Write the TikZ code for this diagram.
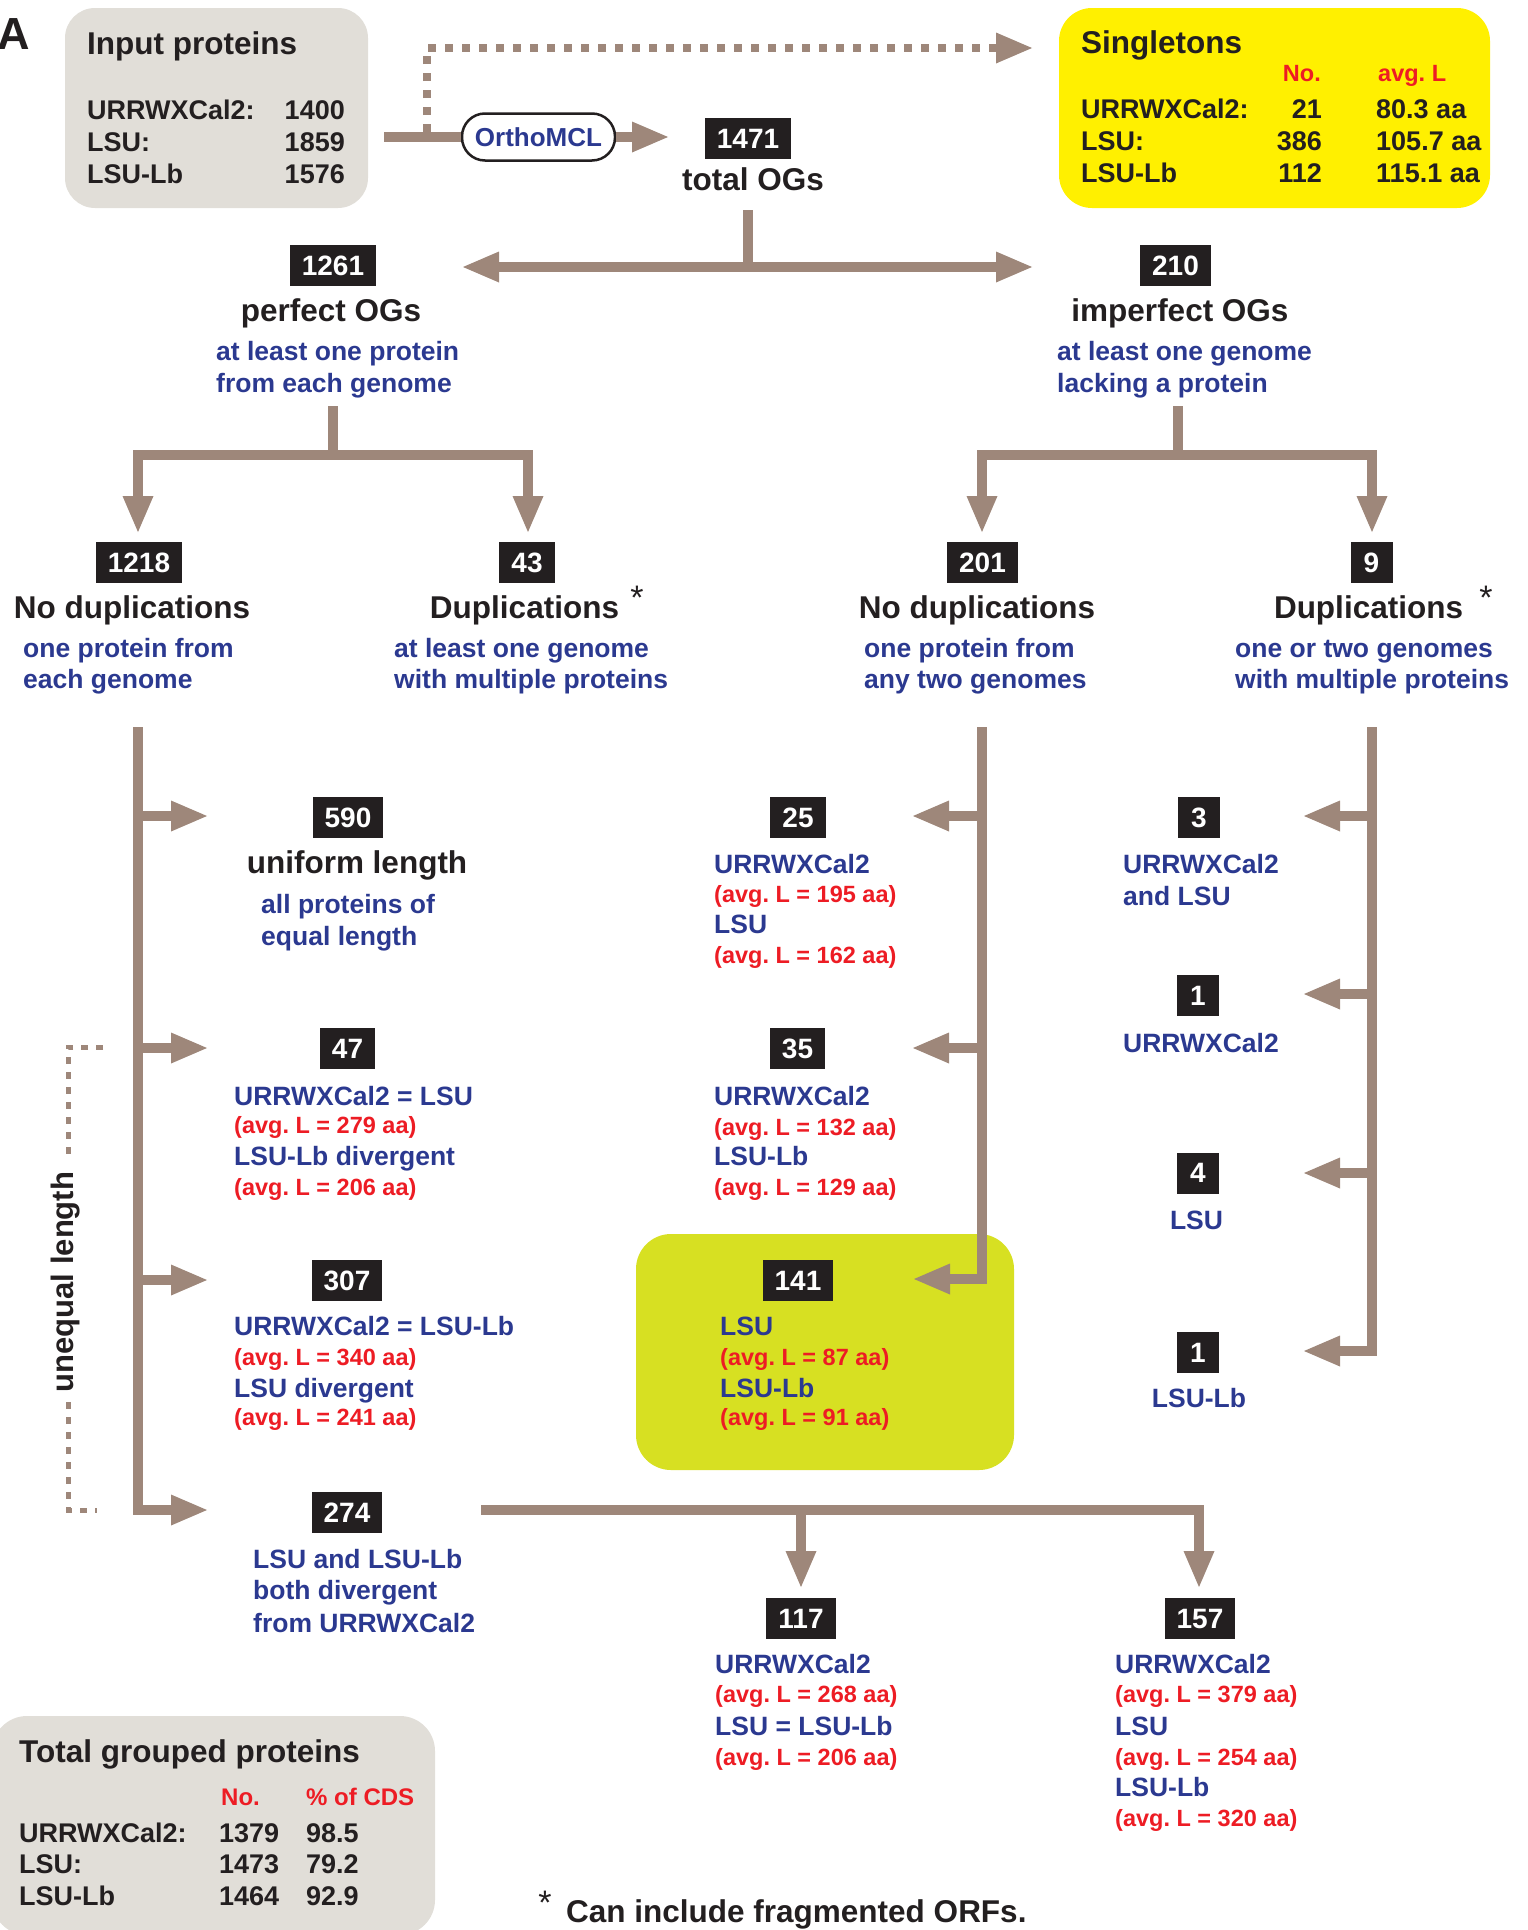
\documentclass[tikz,border=0pt]{standalone}
\usepackage{fontspec}
\setmainfont{Liberation Sans}
\usetikzlibrary{arrows.meta}
\definecolor{cBrn}{RGB}{158,135,122}
\definecolor{cGrey}{RGB}{225,222,216}
\definecolor{cYel}{RGB}{255,240,0}
\definecolor{cGrn}{RGB}{215,224,34}
\definecolor{cBlue}{RGB}{43,57,144}
\definecolor{cRed}{RGB}{237,28,36}
\definecolor{cBlk}{RGB}{35,31,32}
\newcommand\fsz[1]{\fontsize{#1pt}{#1pt}\selectfont\bfseries}
\newcommand\blueline[4]{\node[blt,anchor=base west] (#1) at (#2,#3) {#4};}
\newcommand\redline[4]{\node[rdt,anchor=base west] (#1) at (#2,#3) {#4};}
\tikzset{Tri/.tip={Triangle[length=36pt,width=31pt,line width=0pt]}}
\begin{document}
\frenchspacing
\begin{tikzpicture}[x=1pt,y=-1pt,
  every node/.style={inner sep=0pt, text=cBlk},
  ttl/.style={font=\fsz{31.5}},
  rowt/.style={font=\fsz{27}},
  blt/.style={font=\fsz{26.5}, text=cBlue},
  rdt/.style={font=\fsz{23.5}, text=cRed},
  rdh/.style={font=\fsz{24}, text=cRed},
  astk/.style={font=\fontsize{34pt}{34pt}\selectfont\mdseries},
  numbox/.style={fill=cBlk, text=white, font=\fsz{28}, inner xsep=12pt, inner ysep=0pt, minimum height=41pt, minimum width=42pt},
  conn/.style={draw=cBrn, line width=10pt, line join=miter},
  dotline/.style={draw=cBrn, line width=8pt, dash pattern=on 8pt off 9pt},
  dotlinetwo/.style={draw=cBrn, line width=5pt, dash pattern=on 7pt off 8pt},
]
\useasboundingbox (0,0) rectangle (1528,1930);

% background boxes
\node[fill=cGrey, rounded corners=30pt, minimum width=303pt, minimum height=200pt] (inbox) at (216.5,108) {};
\node[fill=cYel, rounded corners=33pt, minimum width=431pt, minimum height=200pt] (singbox) at (1274.5,108) {};
\node[fill=cGrn, rounded corners=35pt, minimum width=378pt, minimum height=236pt] (grnbox) at (825,1352) {};
\node[fill=cGrey, rounded corners=35pt, minimum width=443pt, minimum height=219pt] (totbox) at (213.5,1825.5) {};

% label A
\node[font=\fsz{45}, anchor=base west] (lblA) at (-3,49) {A};

% input proteins
\node[ttl, anchor=base west] (inT) at (87,54) {Input proteins};
\node[rowt, anchor=base west] (in1) at (87,119) {URRWXCal2:};
\node[rowt, anchor=base east] (in1n) at (345,119) {1400};
\node[rowt, anchor=base west] (in2) at (87,151) {LSU:};
\node[rowt, anchor=base east] (in2n) at (345,151) {1859};
\node[rowt, anchor=base west] (in3) at (87,183) {LSU-Lb};
\node[rowt, anchor=base east] (in3n) at (345,183) {1576};

% singletons
\node[ttl, anchor=base west] (sgT) at (1081,53) {Singletons};
\node[rdt, anchor=base east] (sgNo) at (1321,81) {No.};
\node[rdt, anchor=base west] (sgL) at (1378,81) {avg. L};
\node[rowt, anchor=base west] (sg1) at (1081,118) {URRWXCal2:};
\node[rowt, anchor=base east] (sg1n) at (1322,118) {21};
\node[rowt, anchor=base west] (sg1l) at (1376,118) {80.3 aa};
\node[rowt, anchor=base west] (sg2) at (1081,150) {LSU:};
\node[rowt, anchor=base east] (sg2n) at (1322,150) {386};
\node[rowt, anchor=base west] (sg2l) at (1376,150) {105.7 aa};
\node[rowt, anchor=base west] (sg3) at (1081,182) {LSU-Lb};
\node[rowt, anchor=base east] (sg3n) at (1322,182) {112};
\node[rowt, anchor=base west] (sg3l) at (1376,182) {115.1 aa};

% OrthoMCL and total
\node[draw=cBlk, line width=2.5pt, fill=white, rounded corners=23pt, minimum width=153pt, minimum height=47pt, font=\fsz{26}, text=cBlue] (ortho) at (538.5,137) {OrthoMCL};
\node[numbox] (n1471) at (748,138.5) {1471};
\node[ttl, anchor=base] (totOG) at (753,190) {total OGs};

% top connectors
\coordinate (inout) at (384,137);
\coordinate (t1471) at (668,137);
\draw[conn] (inout) -- (ortho.west);
\draw[conn,-Tri] (ortho.east) -- (t1471);
\coordinate (dA) at (427,132);
\coordinate (dB) at (427,48);
\coordinate (dC) at (1032,48);
\draw[dotline,-Tri] (dA) -- (dB) -- (dC);

\coordinate (s0) at (748,210);
\coordinate (s1) at (748,267);
\coordinate (sL) at (463,267);
\coordinate (sR) at (1032,267);
\draw[conn] (s0) -- (s1);
\draw[conn,Tri-Tri] (sL) -- (sR);

% perfect / imperfect
\node[numbox] (n1261) at (333,265.5) {1261};
\node[ttl,anchor=base] (perf) at (331,321) {perfect OGs};
\blueline{perf1}{216}{360}{at least one protein}
\blueline{perf2}{216}{392}{from each genome}

\node[numbox] (n210) at (1175.5,265.5) {210};
\node[ttl,anchor=base] (imperf) at (1180,321) {imperfect OGs};
\blueline{imp1}{1057}{360}{at least one genome}
\blueline{imp2}{1057}{392}{lacking a protein}

\coordinate (p0) at (333,406);
\coordinate (p1) at (333,455);
\coordinate (pL) at (138,455);
\coordinate (pR) at (528,455);
\coordinate (pLt) at (138,532);
\coordinate (pRt) at (528,532);
\draw[conn] (p0) -- (p1);
\draw[conn,Tri-Tri] (pLt) -- (pL) -- (pR) -- (pRt);

\coordinate (q0) at (1178,406);
\coordinate (q1) at (1178,455);
\coordinate (qL) at (982,455);
\coordinate (qR) at (1372,455);
\coordinate (qLt) at (982,532);
\coordinate (qRt) at (1372,532);
\draw[conn] (q0) -- (q1);
\draw[conn,Tri-Tri] (qLt) -- (qL) -- (qR) -- (qRt);

% second level
\node[numbox] (n1218) at (139,562.5) {1218};
\node[ttl,anchor=base] (nodupA) at (132,618) {No duplications};
\blueline{nda1}{23}{657}{one protein from}
\blueline{nda2}{23}{688}{each genome}

\node[numbox] (n43) at (527,562.5) {43};
\node[ttl,anchor=base] (dupA) at (524.5,618) {Duplications};
\node[astk,anchor=north] (astA) at (637,586) {*};
\blueline{dpa1}{394}{657}{at least one genome}
\blueline{dpa2}{394}{688}{with multiple proteins}

\node[numbox] (n201) at (982.5,562.5) {201};
\node[ttl,anchor=base] (nodupB) at (977,618) {No duplications};
\blueline{ndb1}{864}{657}{one protein from}
\blueline{ndb2}{864}{688}{any two genomes}

\node[numbox] (n9) at (1371.5,562.5) {9};
\node[ttl,anchor=base] (dupB) at (1368.5,618) {Duplications};
\node[astk,anchor=north] (astB) at (1486,586) {*};
\blueline{dpb1}{1235}{657}{one or two genomes}
\blueline{dpb2}{1235}{688}{with multiple proteins}

% left column connectors
\coordinate (c1top) at (138,727);
\coordinate (c1bot) at (138,1510);
\coordinate (c1end) at (207,1510);
\draw[conn,-Tri] (c1top) -- (c1bot) -- (c1end);
\coordinate (b1s) at (138,816);  \coordinate (b1t) at (207,816);
\coordinate (b2s) at (138,1048); \coordinate (b2t) at (207,1048);
\coordinate (b3s) at (138,1280); \coordinate (b3t) at (207,1280);
\draw[conn,-Tri] (b1s) -- (b1t);
\draw[conn,-Tri] (b2s) -- (b2t);
\draw[conn,-Tri] (b3s) -- (b3t);

% middle column connectors
\coordinate (c2top) at (982,727);
\coordinate (c2bot) at (982,1279);
\coordinate (c2end) at (914,1279);
\draw[conn,-Tri] (c2top) -- (c2bot) -- (c2end);
\coordinate (m1s) at (982,816);  \coordinate (m1t) at (913,816);
\coordinate (m2s) at (982,1048); \coordinate (m2t) at (913,1048);
\draw[conn,-Tri] (m1s) -- (m1t);
\draw[conn,-Tri] (m2s) -- (m2t);

% right column connectors
\coordinate (c3top) at (1372,727);
\coordinate (c3bot) at (1372,1351);
\coordinate (c3end) at (1304,1351);
\draw[conn,-Tri] (c3top) -- (c3bot) -- (c3end);
\coordinate (r1s) at (1372,816);  \coordinate (r1t) at (1304,816);
\coordinate (r2s) at (1372,994);  \coordinate (r2t) at (1304,994);
\coordinate (r3s) at (1372,1173); \coordinate (r3t) at (1304,1173);
\draw[conn,-Tri] (r1s) -- (r1t);
\draw[conn,-Tri] (r2s) -- (r2t);
\draw[conn,-Tri] (r3s) -- (r3t);

% bottom connectors
\coordinate (h0) at (481,1510);
\coordinate (h1) at (1199,1510);
\coordinate (h1t) at (1199,1587);
\coordinate (hm) at (801,1510);
\coordinate (hmt) at (801,1587);
\draw[conn,-Tri] (h0) -- (h1) -- (h1t);
\draw[conn,-Tri] (hm) -- (hmt);

% unequal length bracket
\coordinate (u0) at (103,1047);
\coordinate (u1) at (68,1047);
\coordinate (u2) at (68,1510);
\coordinate (u3) at (97,1510);
\draw[dotlinetwo] (u0) -- (u1) -- (u2) -- (u3);
\node[font=\fsz{31}, fill=white, rotate=90, inner xsep=10pt, inner ysep=2pt] (uneq) at (66,1282) {unequal length};

% left groups
\node[numbox] (n590) at (348,817.5) {590};
\node[ttl,anchor=base] (unif) at (357,873) {uniform length};
\blueline{unif1}{261}{913}{all proteins of}
\blueline{unif2}{261}{945}{equal length}

\node[numbox] (n47) at (347.5,1048.5) {47};
\blueline{g47a}{234}{1105}{URRWXCal2 = LSU}
\redline{g47b}{234}{1133}{(avg. L = 279 aa)}
\blueline{g47c}{234}{1165}{LSU-Lb divergent}
\redline{g47d}{234}{1195}{(avg. L = 206 aa)}

\node[numbox] (n307) at (347,1280.5) {307};
\blueline{g307a}{234}{1335}{URRWXCal2 = LSU-Lb}
\redline{g307b}{234}{1365}{(avg. L = 340 aa)}
\blueline{g307c}{234}{1397}{LSU divergent}
\redline{g307d}{234}{1425}{(avg. L = 241 aa)}

\node[numbox] (n274) at (347,1512.5) {274};
\blueline{g274a}{253}{1568}{LSU and LSU-Lb}
\blueline{g274b}{253}{1599}{both divergent}
\blueline{g274c}{253}{1632}{from URRWXCal2}

% middle groups
\node[numbox] (n25) at (798,817.5) {25};
\blueline{g25a}{714}{873}{URRWXCal2}
\redline{g25b}{714}{902}{(avg. L = 195 aa)}
\blueline{g25c}{714}{933}{LSU}
\redline{g25d}{714}{963}{(avg. L = 162 aa)}

\node[numbox] (n35) at (797.5,1048.5) {35};
\blueline{g35a}{714}{1105}{URRWXCal2}
\redline{g35b}{714}{1135}{(avg. L = 132 aa)}
\blueline{g35c}{714}{1165}{LSU-Lb}
\redline{g35d}{714}{1195}{(avg. L = 129 aa)}

\node[numbox] (n141) at (798,1280.5) {141};
\blueline{g141a}{720}{1335}{LSU}
\redline{g141b}{720}{1365}{(avg. L = 87 aa)}
\blueline{g141c}{720}{1397}{LSU-Lb}
\redline{g141d}{720}{1425}{(avg. L = 91 aa)}

% right groups
\node[numbox] (n3) at (1199,817.5) {3};
\blueline{g3a}{1123}{873}{URRWXCal2}
\blueline{g3b}{1123}{905}{and LSU}

\node[numbox] (n1a) at (1198,995.5) {1};
\blueline{g1a}{1123}{1052}{URRWXCal2}

\node[numbox] (n4) at (1198,1173) {4};
\node[blt,anchor=base] (g4a) at (1196.5,1229) {LSU};

\node[numbox] (n1b) at (1198,1352.5) {1};
\node[blt,anchor=base] (g1b) at (1199,1407) {LSU-Lb};

% bottom groups
\node[numbox] (n117) at (801,1618.5) {117};
\blueline{g117a}{715}{1673}{URRWXCal2}
\redline{g117b}{715}{1702}{(avg. L = 268 aa)}
\blueline{g117c}{715}{1735}{LSU = LSU-Lb}
\redline{g117d}{715}{1765}{(avg. L = 206 aa)}

\node[numbox] (n157) at (1200,1618.5) {157};
\blueline{g157a}{1115}{1673}{URRWXCal2}
\redline{g157b}{1115}{1702}{(avg. L = 379 aa)}
\blueline{g157c}{1115}{1735}{LSU}
\redline{g157d}{1115}{1765}{(avg. L = 254 aa)}
\blueline{g157e}{1115}{1796}{LSU-Lb}
\redline{g157f}{1115}{1826}{(avg. L = 320 aa)}

% total grouped proteins
\node[ttl,anchor=base west] (totT) at (19,1762) {Total grouped proteins};
\node[rdh,anchor=base west] (totNo) at (221,1805) {No.};
\node[rdh,anchor=base west] (totPc) at (306,1805) {\% of CDS};
\node[rowt,anchor=base west] (tr1) at (19,1842) {URRWXCal2:};
\node[rowt,anchor=base west] (tr1n) at (219,1842) {1379};
\node[rowt,anchor=base west] (tr1p) at (306,1842) {98.5};
\node[rowt,anchor=base west] (tr2) at (19,1873) {LSU:};
\node[rowt,anchor=base west] (tr2n) at (219,1873) {1473};
\node[rowt,anchor=base west] (tr2p) at (306,1873) {79.2};
\node[rowt,anchor=base west] (tr3) at (19,1905) {LSU-Lb};
\node[rowt,anchor=base west] (tr3n) at (219,1905) {1464};
\node[rowt,anchor=base west] (tr3p) at (306,1905) {92.9};

% footnote
\node[astk,anchor=north] (fast) at (545,1891) {*};
\node[ttl,anchor=base west] (foot) at (566,1922) {Can include fragmented ORFs.};
\end{tikzpicture}
\end{document}
